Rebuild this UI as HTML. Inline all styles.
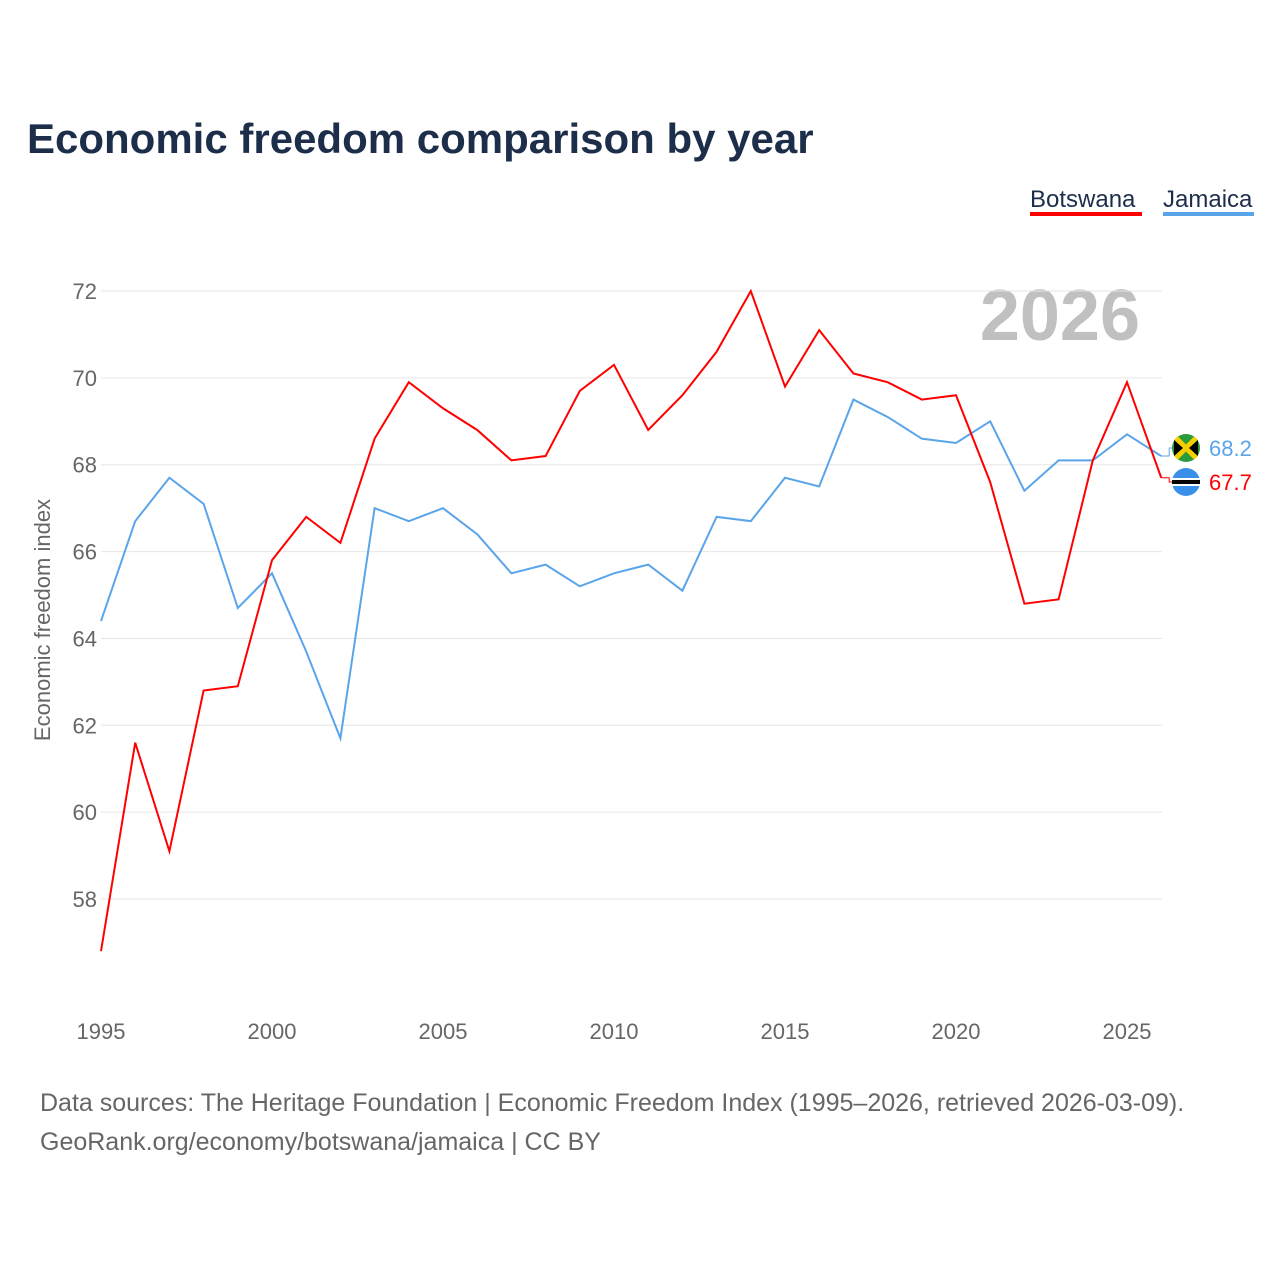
<!DOCTYPE html>
<html><head><meta charset="utf-8"><style>
body{margin:0;background:#fff;font-family:"Liberation Sans",sans-serif}
</style></head><body>
<svg width="1280" height="1280" xmlns="http://www.w3.org/2000/svg">
<text x="27" y="153" font-size="42" font-weight="bold" fill="#1c2e4a">Economic freedom comparison by year</text>
<g>
<text x="1030" y="207" font-size="24" fill="#1c2e4a">Botswana</text>
<rect x="1030" y="212" width="112" height="4" fill="#ff0000"/>
<text x="1163" y="207" font-size="24" fill="#1c2e4a">Jamaica</text>
<rect x="1163" y="212" width="91" height="4" fill="#5aa5ea"/>
</g>
<text x="1140" y="340" font-size="72" font-weight="bold" fill="#c0c0c0" text-anchor="end">2026</text>
<g id="grid"></g><g id="xt"></g>
<text transform="translate(50,620) rotate(-90)" font-size="22" fill="#666" text-anchor="middle">Economic freedom index</text>
<g id="lines"></g>
<text x="40" y="1111" font-size="25" fill="#666">Data sources: The Heritage Foundation | Economic Freedom Index (1995–2026, retrieved 2026-03-09).</text>
<text x="40" y="1150" font-size="25" fill="#666">GeoRank.org/economy/botswana/jamaica | CC BY</text>
</svg>
<script>
const years=[1995,1996,1997,1998,1999,2000,2001,2002,2003,2004,2005,2006,2007,2008,2009,2010,2011,2012,2013,2014,2015,2016,2017,2018,2019,2020,2021,2022,2023,2024,2025,2026];
const botswana=[56.8,61.6,59.1,62.8,62.9,65.8,66.8,66.2,68.6,69.9,69.3,68.8,68.1,68.2,69.7,70.3,68.8,69.6,70.6,72.0,69.8,71.1,70.1,69.9,69.5,69.6,67.6,64.8,64.9,68.1,69.9,67.7];
const jamaica=[64.4,66.7,67.7,67.1,64.7,65.5,63.7,61.7,67.0,66.7,67.0,66.4,65.5,65.7,65.2,65.5,65.7,65.1,66.8,66.7,67.7,67.5,69.5,69.1,68.6,68.5,69.0,67.4,68.1,68.1,68.7,68.2];
const yTicks=[58,60,62,64,66,68,70,72];
const xTicks=[1995,2000,2005,2010,2015,2020,2025];
const NS="http://www.w3.org/2000/svg";
const X=v=>101+(v-1995)*34.2, Y=v=>291+(72-v)*43.43;
function mk(t,a,p){const e=document.createElementNS(NS,t);for(const k in a)e.setAttribute(k,a[k]);p.appendChild(e);return e;}
const g=document.getElementById('grid');
yTicks.forEach(t=>{
 const l=mk('line',{x1:101,x2:1162,y1:Y(t),y2:Y(t),stroke:'#e6e6e6'},g);
 
 
 const tx=mk('text',{x:97,y:Y(t)+8,'font-size':22,fill:'#666','text-anchor':'end'},g);tx.textContent=t;
 
 
});
const xt=document.getElementById('xt');
xTicks.forEach(t=>{
 const tx=mk('text',{x:X(t),y:1039,'font-size':22,fill:'#666','text-anchor':'middle'},xt);tx.textContent=t;
 
 
});
const L=document.getElementById('lines');
[[jamaica,'#5aa5ea','jamaica-line'],[botswana,'#ff0000','botswana-line']].forEach(([d,c,n])=>{
 const p=mk('polyline',{points:d.map((v,i)=>X(years[i])+','+Y(v)).join(' '),fill:'none',stroke:c,'stroke-width':2},L);
 
 
});
const lj=jamaica[jamaica.length-1], lb=botswana[botswana.length-1];
const xe=X(2026);
const jy=448, by=482;
mk('polyline',{points:`${xe},${Y(lj)} ${xe+8},${Y(lj)} ${xe+8},${jy} ${xe+12},${jy}`,fill:'none',stroke:'#5aa5ea'},L);
mk('polyline',{points:`${xe},${Y(lb)} ${xe+8},${Y(lb)} ${xe+8},${by} ${xe+12},${by}`,fill:'none',stroke:'#ff0000'},L);
const fj=mk('g',{},L);


mk('circle',{cx:1186,cy:jy,r:14,fill:'#2a9a3a'},fj);
mk('path',{d:`M1176 ${jy-10} L1196 ${jy+10} M1196 ${jy-10} L1176 ${jy+10}`,stroke:'#f5d000','stroke-width':5},fj);
mk('path',{d:`M1174 ${jy-8} L1183 ${jy} L1174 ${jy+8} Z M1198 ${jy-8} L1189 ${jy} L1198 ${jy+8} Z`,fill:'#000'},fj);
const fb=mk('g',{},L);


mk('circle',{cx:1186,cy:by,r:14,fill:'#3a8fe8'},fb);
mk('rect',{x:1172,y:by-4,width:28,height:8,fill:'#fff'},fb);
mk('rect',{x:1172,y:by-2,width:28,height:4,fill:'#000'},fb);
const tj=mk('text',{x:1209,y:jy+8,'font-size':22,fill:'#5aa5ea'},L);tj.textContent=lj.toFixed(1);


const tb=mk('text',{x:1209,y:by+8,'font-size':22,fill:'#ff0000'},L);tb.textContent=lb.toFixed(1);


</script>
</body></html>
